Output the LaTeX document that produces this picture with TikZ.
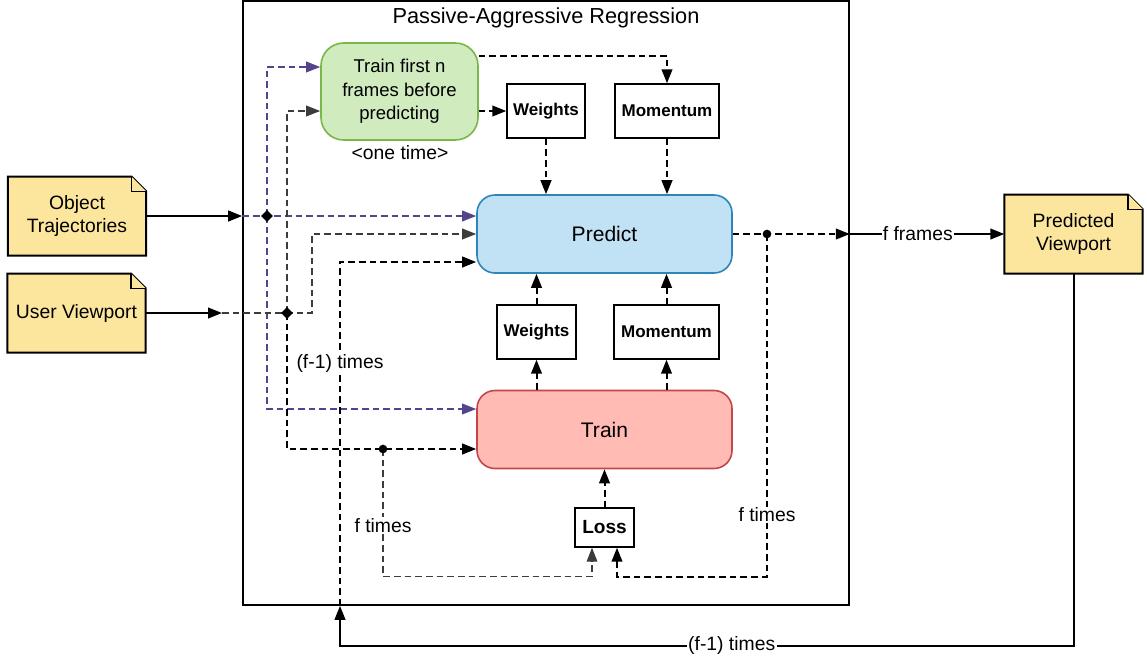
\documentclass[tikz,border=0pt]{standalone}
\usepackage{fontspec}
\setmainfont{Liberation Sans}
\usetikzlibrary{arrows.meta,calc,shapes.geometric,backgrounds}

\definecolor{notey}{RGB}{252,230,158}
\definecolor{greenfill}{RGB}{208,235,190}
\definecolor{greenline}{RGB}{122,182,72}
\definecolor{bluefill}{RGB}{193,226,245}
\definecolor{blueline}{RGB}{44,134,184}
\definecolor{redfill}{RGB}{255,187,180}
\definecolor{redline}{RGB}{196,70,74}
\definecolor{purp}{RGB}{85,68,140}
\definecolor{darkg}{RGB}{60,60,60}

\tikzset{every picture/.style={line width=0.75pt}}
\tikzset{
 framebox/.style={draw,line width=1.2pt,minimum width=454.5pt,minimum height=453pt,inner sep=0pt},
 stagebox/.style={draw,line width=1.2pt,rounded corners=13.5pt,minimum width=191.25pt,minimum height=58.5pt,font=\fontsize{15.8}{19}\selectfont},
 valbox/.style={draw,line width=1.1pt,fill=white,minimum height=40.5pt,inner sep=0pt,font=\fontsize{12.75}{15}\selectfont\bfseries},
 notetxt/.style={minimum width=103pt,minimum height=58.5pt,align=center,inner sep=0pt,font=\fontsize{14.5}{17.3}\selectfont},
 notebox/.style={draw,fill=notey,line width=1.5pt,line join=miter},
 lbl/.style={fill=white,text=black,inner sep=1pt,font=\fontsize{14.5}{17}\selectfont},
 endtip/.style={-{Triangle[length=10.5pt,width=8pt]}},
 solidarr/.style={endtip,line width=1.5pt},
 blkdash/.style={line width=1.5pt,dash pattern=on 5pt off 3pt},
 graydash/.style={darkg,line width=1.1pt,dash pattern=on 5pt off 3pt},
 purpdash/.style={purp,line width=1.1pt,dash pattern=on 5pt off 3pt},
 jdiam/.style={diamond,fill=black,inner sep=0pt,minimum size=9pt},
 jdot/.style={circle,fill=black,inner sep=0pt,minimum size=6.5pt},
}

% note with folded corner, drawn behind its text
\newcommand{\notefold}[1]{%
 \begin{pgfonlayer}{background}
 \draw[notebox] (#1.north west) -- ([xshift=-11pt]#1.north east) -- ([yshift=11pt]#1.north east) -- (#1.south east) -- (#1.south west) -- cycle;
 \draw[notebox,line width=1pt] ([xshift=-11pt]#1.north east) -- ([xshift=-11pt,yshift=11pt]#1.north east) -- ([yshift=11pt]#1.north east);
 \end{pgfonlayer}}

\begin{document}
\begin{tikzpicture}[x=0.75pt,y=0.75pt,yscale=-1,xscale=1]
\useasboundingbox (0,0) rectangle (1147,658);

%Shape: Rectangle
\node[framebox] (pa) at (546,303) {};
% Text Node
\node[font=\fontsize{16.3}{19}\selectfont] (title) at (546,18) {Passive-Aggressive Regression};

%Shape: Rounded Rectangle
\node[stagebox,fill=greenfill,draw=greenline,minimum width=117.75pt,minimum height=72.75pt,rounded corners=17pt,align=center,font=\fontsize{13.9}{17.6}\selectfont] (first) at (399.5,91.5) {Train first n\\frames before\\predicting};
% Text Node
\node[lbl] (once) at (400,153) {<one time>};
%Shape: Rounded Rectangle
\node[stagebox,fill=bluefill,draw=blueline] (pred) at (604.5,234) {Predict};
%Shape: Rounded Rectangle
\node[stagebox,fill=redfill,draw=redline] (train) at (604.5,429.5) {Train};

%Shape: Rectangle
\node[valbox,minimum width=58.5pt] (wa) at (546,111) {Weights};
\node[valbox,minimum width=78pt] (ma) at (667,111) {Momentum};
\node[valbox,minimum width=59.25pt] (wb) at (536.5,332) {Weights};
\node[valbox,minimum width=78.75pt] (mb) at (666.5,332) {Momentum};
\node[valbox,minimum width=44.25pt,minimum height=29.25pt,font=\fontsize{14.3}{17}\selectfont\bfseries] (loss) at (604.5,527.5) {Loss};

%Shape: Note
\node[notetxt] (ot) at (77,216) {Object\\Trajectories};
\node[notetxt] (uv) at (76.5,313) {User Viewport};
\node[notetxt] (pv) at (1073.5,234) {Predicted\\Viewport};
\notefold{ot} \notefold{uv} \notefold{pv}

\coordinate (jo) at (267,216);
\coordinate (ju) at (287,313);
\coordinate (jp) at (767,234);
\coordinate (jt) at (383,449);
\coordinate (uvin) at (222,313);

%Straight Lines
\draw[solidarr] (ot.east) -- (ot.east -| pa.west);
\draw[solidarr] (uv.east) -- (uvin);
\draw[solidarr] (pred.east -| pa.east) -- node[lbl,pos=0.44] {f frames} (pv.west);
\draw[solidarr] (pv.south) |- ($(pa.south)+(-206,40)$) node[lbl,pos=0.733] {(f-1) times} -- ($(pa.south)+(-206,0)$);

% object trajectories
\draw[purpdash,endtip] (ot.east -| pa.west) -- (pred.west |- jo);
\draw[purpdash,endtip] (jo) |- ($(first.west)+(0,-24.5)$);
\draw[purpdash,endtip] (jo) |- ($(train.west)+(0,-20.5)$);

% user viewport
\draw[graydash,endtip] (uvin) -- ($(ju)+(25,0)$) |- (pred.west);
\draw[graydash,endtip] (ju) |- ($(first.west)+(0,19.5)$);
\draw[blkdash,endtip] (ju) |- ($(train.west)+(0,19.5)$);

% weights and momentum
\draw[blkdash,endtip] ($(first.east)+(0,-35.5)$) -| (ma.north);
\draw[blkdash,endtip] (first.east |- wa.west) -- (wa.west);
\draw[blkdash,endtip] (wa.south) -- (wa.south |- pred.north);
\draw[blkdash,endtip] (ma.south) -- (ma.south |- pred.north);
\draw[blkdash,endtip] (wb.south |- train.north) -- (wb.south);
\draw[blkdash,endtip] (wb.north) -- (wb.north |- pred.south);
\draw[blkdash,endtip] (mb.south |- train.north) -- (mb.south);
\draw[blkdash,endtip] (mb.north) -- (mb.north |- pred.south);
\draw[blkdash,endtip] (loss.north) -- (loss.north |- train.south);

% output and loss loops
\draw[blkdash,endtip] (pred.east) -- (pred.east -| pa.east);
\draw[blkdash,endtip] (jp) |- ($(loss.south)+(12.5,29)$) node[lbl,pos=0.41] {f times} -- ($(loss.south)+(12.5,0)$);
\draw[graydash,endtip] (jt) |- ($(loss.south)+(-12.5,29)$) node[lbl,pos=0.3] {f times} -- ($(loss.south)+(-12.5,0)$);
\draw[blkdash,endtip] ($(pa.south)+(-206,0)$) |- ($(pred.west)+(0,28)$) node[lbl,pos=0.353] {(f-1) times};

% junctions
\node[jdiam] (jom) at (jo) {};
\node[jdiam] (jum) at (ju) {};
\node[jdot] (jpm) at (jp) {};
\node[jdot] (jtm) at (jt) {};

\end{tikzpicture}
\end{document}
